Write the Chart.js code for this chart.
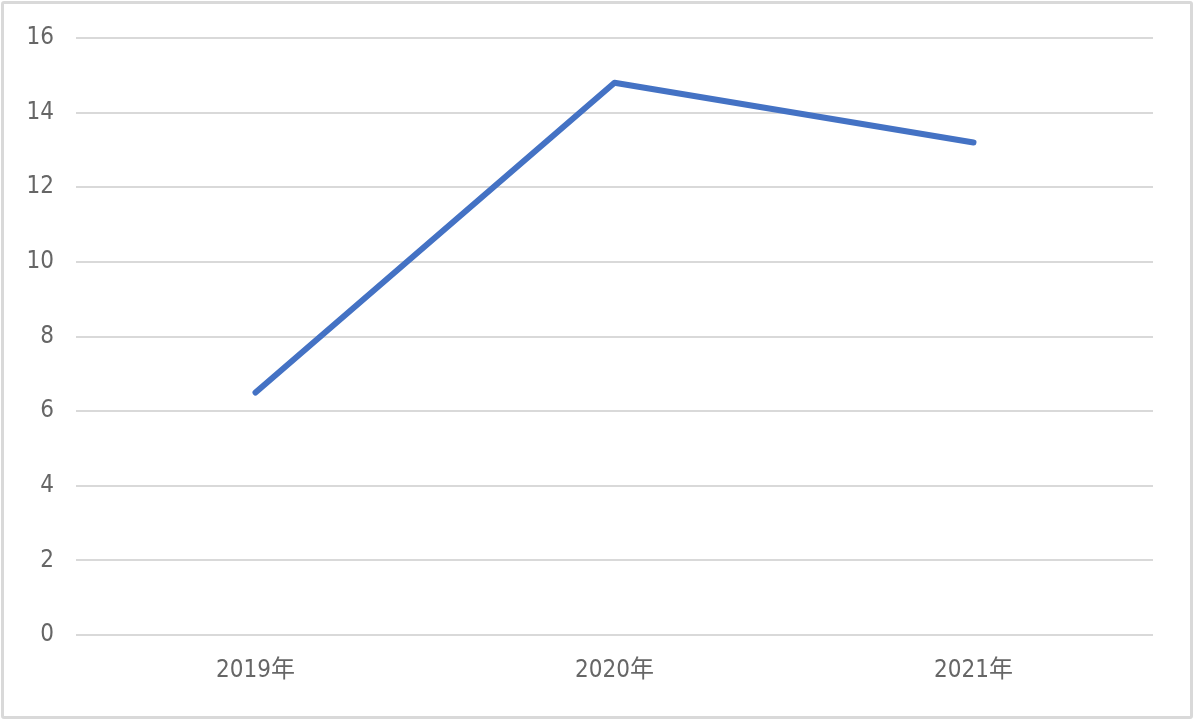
<!DOCTYPE html>
<html>
<head>
<meta charset="utf-8">
<script src="https://cdn.jsdelivr.net/npm/chart.js@4"></script>
<style>
  html, body { margin: 0; padding: 0; background: #fff; }
  #wrap { position: relative; width: 1195px; height: 720px; }
  #frame {
    position: absolute; left: 1px; top: 1px; width: 1186px; height: 712px;
    border: 3px solid #d9d9d9; border-radius: 3px; pointer-events: none;
  }
  canvas { position: absolute; left: 0; top: 0; }
</style>
</head>
<body>
<div id="wrap">
  <canvas id="chart" width="1195" height="720"></canvas>
  <div id="frame"></div>
</div>
<script>
const years = ["2019年", "2020年", "2021年"];
const values = [6.5, 14.8, 13.2];
const yTicks = { min: 0, max: 16, step: 2 };

const fontFamily = '"DejaVu Sans Condensed", "DejaVu Sans", "Noto Sans CJK JP", sans-serif';

const ctx = document.getElementById('chart').getContext('2d');
new Chart(ctx, {
    type: 'line',
    data: {
        labels: years,
        datasets: [{
            data: values,
            borderColor: '#4472C4',
            borderWidth: 6,
            borderCapStyle: 'round',
            borderJoinStyle: 'round',
            pointRadius: 0,
            tension: 0,
            fill: false
        }]
    },
    options: {
        responsive: false,
        animation: false,
        layout: {
            padding: { top: 38, right: 42, bottom: 0, left: 0 }
        },
        plugins: {
            legend: { display: false },
            tooltip: { enabled: false }
        },
        scales: {
            x: {
                offset: true,
                grid: { display: false, drawTicks: false },
                border: { display: false },
                ticks: {
                    color: '#666666',
                    padding: 21,
                    font: { family: fontFamily, size: 24 }
                },
                afterFit: function (scale) { scale.height = 85; }
            },
            y: {
                min: yTicks.min,
                max: yTicks.max,
                grid: { color: '#d9d9d9', lineWidth: 2, drawTicks: false },
                border: { display: false },
                ticks: {
                    stepSize: yTicks.step,
                    color: '#666666',
                    padding: 22,
                    font: { family: fontFamily, size: 24 }
                },
                afterFit: function (scale) { scale.width = 76; }
            }
        }
    }
});
</script>
</body>
</html>
